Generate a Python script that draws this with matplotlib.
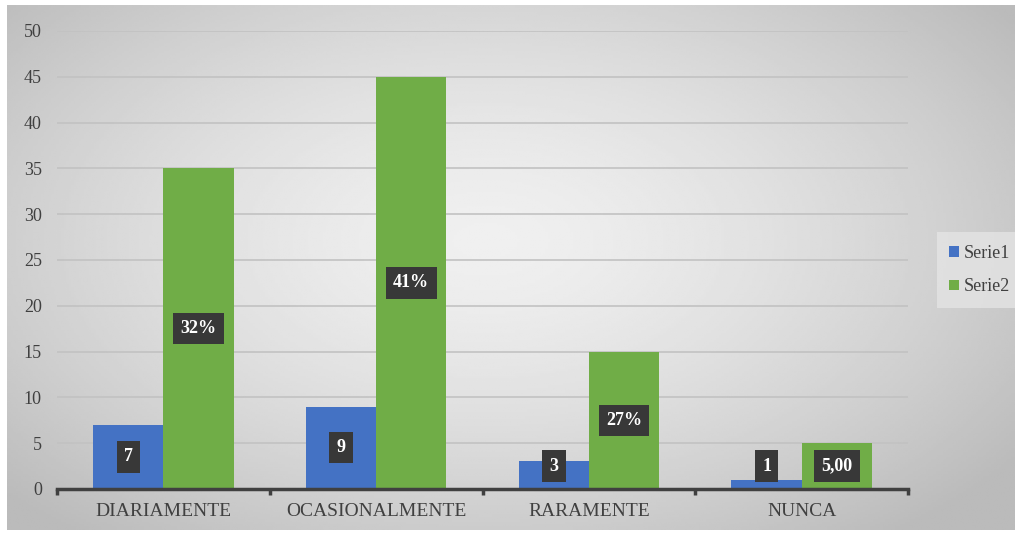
import matplotlib.pyplot as plt
import numpy as np

categories = ['DIARIAMENTE', 'OCASIONALMENTE', 'RARAMENTE', 'NUNCA']
serie1 = [7, 9, 3, 1]
serie2 = [35, 45, 15, 5]
labels1 = ['7', '9', '3', '1']
labels2 = ['32%', '41%', '27%', '5,00']
yticks = [0, 5, 10, 15, 20, 25, 30, 35, 40, 45, 50]

blue = '#4472c4'
green = '#70ad47'
plt.rcParams['font.family'] = ['Liberation Serif', 'DejaVu Serif']

fig = plt.figure(figsize=(10.15, 5.33), dpi=100)

# gray radial gradient background
bg = fig.add_axes([0.007, 0.006, 0.993, 0.985])
gx, gy = np.meshgrid(np.linspace(-1, 1, 400), np.linspace(-1, 1, 220))
r = np.sqrt(((gx + 0.05) / 1.0) ** 2 + ((gy + 0.1) / 1.1) ** 2)
bg.imshow(0.94 - 0.14 * np.clip(r, 0, 1.3) ** 1.5, cmap='gray', vmin=0, vmax=1,
          aspect='auto', extent=[0, 1, 0, 1])
bg.axis('off')

ax = fig.add_axes([0.0562, 0.0826, 0.8384, 0.8593])
ax.patch.set_alpha(0)
x = np.arange(len(categories))
w = 0.33
ax.bar(x - w / 2, serie1, w, color=blue, label='Serie1', zorder=3)
ax.bar(x + w / 2, serie2, w, color=green, label='Serie2', zorder=3)

box = dict(boxstyle='square,pad=0.4', facecolor='#383838', edgecolor='none')
for i in range(len(categories)):
    ax.text(x[i] - w / 2, max(serie1[i] / 2, 2.5), labels1[i], ha='center', va='center',
            color='white', fontsize=13, fontweight='bold', bbox=box, zorder=5)
    ax.text(x[i] + w / 2, max(serie2[i] / 2, 2.5), labels2[i], ha='center', va='center',
            color='white', fontsize=13, fontweight='bold', bbox=box, zorder=5)

ax.set_xlim(-0.5, 3.5)
ax.set_ylim(0, 50)
ax.set_yticks(yticks)
ax.yaxis.grid(True, color='#c2c2c2', linewidth=1.2, zorder=0)
ax.tick_params(axis='y', length=0, labelsize=13, labelcolor='#404040', pad=11)
ax.set_xticks(x)
ax.set_xticklabels(categories)
ax.tick_params(axis='x', length=0, labelsize=14, labelcolor='#404040', pad=10)
ax.set_xticks(np.arange(-0.5, 4, 1), minor=True)
ax.tick_params(axis='x', which='minor', length=4, width=2.5, color='#404040')
for s in ['top', 'right', 'left']:
    ax.spines[s].set_visible(False)
ax.spines['bottom'].set_color('#404040')
ax.spines['bottom'].set_linewidth(2.5)
ax.spines['bottom'].set_zorder(4)

leg = fig.legend(loc='center left', bbox_to_anchor=(0.914, 0.493), frameon=True,
                 fontsize=13, handlelength=0.55, handleheight=0.55, handletextpad=0.25,
                 labelspacing=0.9, fancybox=False, borderpad=0.7)
leg.get_frame().set_facecolor('#e4e4e4')
leg.get_frame().set_edgecolor('none')
for t in leg.get_texts():
    t.set_color('#404040')

plt.savefig('out.png', dpi=100)
